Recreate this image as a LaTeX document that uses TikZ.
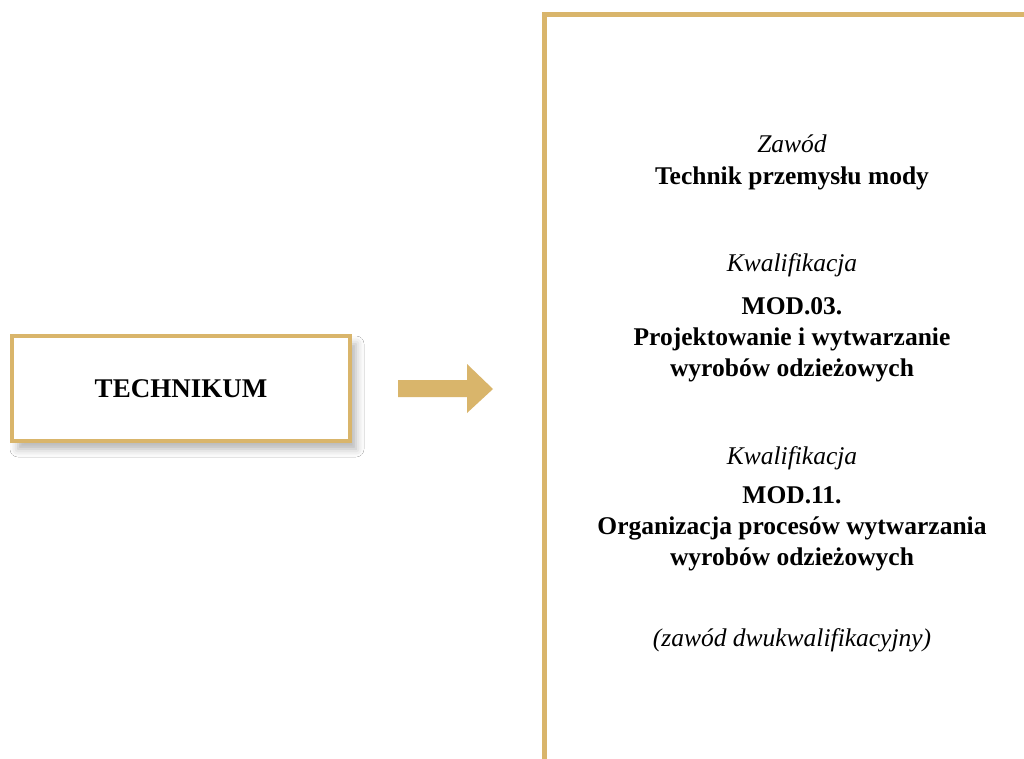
\documentclass[tikz,border=0pt]{standalone}
\usepackage{fontspec}
\setmainfont{Liberation Serif}
\usetikzlibrary{shadows.blur}
\definecolor{gold}{RGB}{217,181,107}
\begin{document}
\begin{tikzpicture}[x=1pt,y=1pt,
  bt/.style={font=\fontsize{25.5}{30}\selectfont\bfseries, anchor=base, inner sep=0pt},
  it/.style={font=\fontsize{25.5}{30}\selectfont\itshape, anchor=base, inner sep=0pt},
  boxstyle/.style={draw=gold, line width=4pt, fill=white, minimum width=338pt, minimum height=105pt,
     blur shadow={shadow xshift=6pt, shadow yshift=-8pt, shadow blur radius=8pt, shadow opacity=30}},
  bracket/.style={draw=gold, line width=5pt, line join=miter}]
\useasboundingbox (0,0) rectangle (1024,-758);
\fill[white] (0,0) rectangle (1024,-758);
% left box
\node[boxstyle, font=\fontsize{27}{30}\selectfont\bfseries] (tech) at (181,-388.5) {TECHNIKUM};
% block arrow
\coordinate (a1) at (398,-380);
\coordinate (a2) at (467,-380);
\coordinate (a3) at (467,-364);
\coordinate (tip) at (493,-389);
\coordinate (a5) at (467,-413);
\coordinate (a6) at (467,-397);
\coordinate (a7) at (398,-397);
\fill[gold] (a1) -- (a2) -- (a3) -- (tip) -- (a5) -- (a6) -- (a7) -- cycle;
% bracket
\coordinate (bb) at (544.5,-762);
\coordinate (bc) at (544.5,-14.5);
\coordinate (be) at (1028,-14.5);
\draw[bracket] (bb) -- (bc) -- (be);
% texts
\node[it] (t1) at (792,-152) {Zawód};
\node[bt] (t2) at (792,-184) {Technik przemysłu mody};
\node[it] (t3) at (792,-271) {Kwalifikacja};
\node[bt] (t4) at (792,-314) {MOD.03.};
\node[bt] (t5) at (792,-345) {Projektowanie i wytwarzanie};
\node[bt] (t6) at (792,-376) {wyrobów odzieżowych};
\node[it] (t7) at (792,-464) {Kwalifikacja};
\node[bt] (t8) at (792,-503) {MOD.11.};
\node[bt] (t9) at (792,-534) {Organizacja procesów wytwarzania};
\node[bt] (t10) at (792,-565) {wyrobów odzieżowych};
\node[it] (t11) at (792,-646) {(zawód dwukwalifikacyjny)};
\end{tikzpicture}
\end{document}
